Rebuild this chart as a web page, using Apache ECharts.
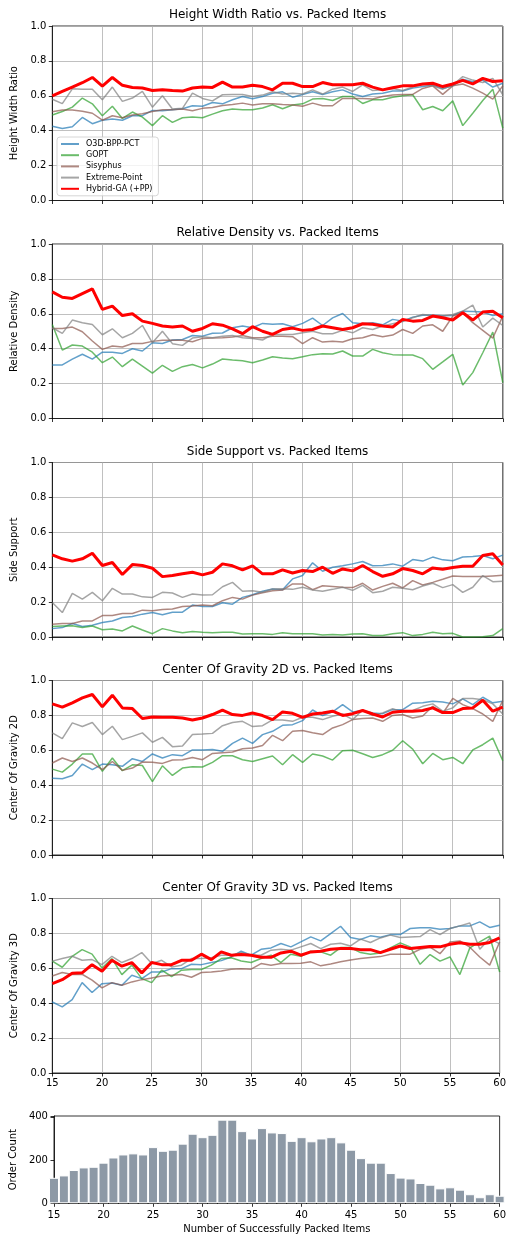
<!DOCTYPE html>
<html><head><meta charset="utf-8">
<script src="https://cdn.jsdelivr.net/npm/echarts@6/dist/echarts.min.js"></script>
<style>html,body{margin:0;padding:0;background:#fff}#c{width:509px;height:1237px}</style>
</head><body><div id="c"></div><script>
const xs = [15,16,17,18,19,20,21,22,23,24,25,26,27,28,29,30,31,32,33,34,35,36,37,38,39,40,41,42,43,44,45,46,47,48,49,50,51,52,53,54,55,56,57,58,59,60];
const seriesNames = ['O3D-BPP-PCT','GOPT','Sisyphus','Extreme-Point','Hybrid-GA (+PP)'];
const panelTitles = ['Height Width Ratio vs. Packed Items','Relative Density vs. Packed Items','Side Support vs. Packed Items','Center Of Gravity 2D vs. Packed Items','Center Of Gravity 3D vs. Packed Items'];
const panelYNames = ['Height Width Ratio','Relative Density','Side Support','Center Of Gravity 2D','Center Of Gravity 3D'];
const yTicks = [0.0,0.2,0.4,0.6,0.8,1.0];
const barYTicks = [0,200,400];
const xTitle = 'Number of Successfully Packed Items';
const barYName = 'Order Count';

// Height Width Ratio
const hwrO3D = [.425,.413,.423,.476,.44,.46,.467,.46,.486,.486,.516,.514,.52,.526,.543,.54,.562,.554,.577,.596,.583,.596,.615,.623,.592,.608,.623,.608,.623,.634,.61,.596,.61,.615,.627,.627,.644,.653,.661,.642,.657,.695,.68,.69,.65,.672];
const hwrGOPT = [.49,.51,.535,.587,.554,.486,.54,.47,.507,.478,.429,.486,.448,.474,.478,.474,.495,.514,.524,.52,.52,.53,.549,.526,.547,.554,.581,.585,.573,.596,.596,.556,.577,.577,.592,.60,.606,.52,.539,.514,.571,.429,.50,.573,.638,.415];
const hwrSisyphus = [.508,.518,.518,.512,.50,.46,.486,.474,.49,.497,.51,.52,.52,.524,.514,.528,.533,.545,.55,.558,.547,.554,.554,.55,.547,.54,.558,.543,.543,.585,.585,.585,.582,.596,.604,.608,.608,.642,.657,.608,.657,.668,.644,.615,.581,.657];
const hwrExtreme = [.58,.555,.64,.638,.638,.577,.65,.568,.587,.625,.535,.60,.524,.528,.615,.585,.571,.606,.608,.608,.596,.604,.623,.61,.615,.61,.634,.61,.638,.65,.625,.663,.63,.634,.642,.63,.65,.665,.657,.638,.661,.71,.69,.676,.70,.606];
const hwrHybrid = [.60,.625,.65,.675,.705,.655,.705,.66,.648,.645,.63,.634,.63,.627,.645,.65,.648,.678,.65,.651,.66,.653,.634,.672,.672,.653,.653,.676,.663,.663,.663,.672,.65,.634,.646,.657,.657,.668,.672,.653,.668,.688,.668,.70,.682,.686];

// Relative Density
const rdO3D = [.307,.307,.34,.368,.34,.38,.38,.373,.40,.387,.434,.43,.45,.453,.476,.472,.488,.49,.52,.53,.52,.545,.54,.543,.526,.545,.575,.533,.577,.602,.549,.543,.549,.537,.568,.558,.581,.592,.592,.589,.59,.615,.613,.61,.59,.60];
const rdGOPT = [.539,.392,.421,.415,.38,.32,.352,.297,.34,.30,.26,.305,.27,.297,.309,.29,.312,.341,.335,.331,.32,.335,.354,.347,.343,.354,.366,.371,.37,.387,.358,.358,.396,.377,.366,.364,.364,.343,.282,.324,.368,.192,.263,.377,.495,.206];
const rdSisyphus = [.516,.516,.524,.497,.444,.396,.415,.41,.43,.43,.442,.448,.448,.448,.44,.459,.461,.463,.467,.476,.463,.463,.472,.472,.469,.429,.463,.438,.442,.438,.457,.463,.48,.469,.478,.51,.488,.53,.537,.50,.587,.606,.549,.505,.461,.587];
const rdExtreme = [.52,.488,.564,.549,.539,.48,.514,.463,.488,.533,.434,.50,.429,.419,.461,.469,.463,.472,.476,.463,.459,.45,.482,.482,.482,.491,.50,.486,.486,.505,.491,.52,.51,.53,.543,.556,.577,.596,.59,.587,.596,.615,.65,.524,.575,.533];
const rdHybrid = [.726,.695,.688,.716,.743,.625,.644,.59,.60,.558,.545,.53,.524,.53,.50,.516,.543,.535,.514,.486,.526,.50,.482,.51,.518,.505,.51,.53,.52,.51,.52,.543,.54,.53,.524,.568,.558,.562,.587,.577,.564,.606,.564,.61,.615,.577];

// Side Support
const ssO3D = [.048,.054,.077,.06,.067,.083,.092,.112,.117,.131,.14,.127,.142,.142,.183,.175,.175,.196,.188,.227,.242,.262,.275,.271,.333,.352,.425,.377,.40,.408,.419,.433,.408,.41,.419,.406,.444,.435,.458,.442,.437,.458,.462,.467,.448,.469];
const ssGOPT = [.06,.063,.065,.054,.063,.042,.046,.035,.063,.04,.019,.048,.035,.025,.031,.027,.025,.027,.027,.017,.019,.019,.015,.025,.019,.019,.019,.012,.015,.012,.017,.019,.008,.008,.019,.025,.008,.015,.027,.019,.021,.0,.0,.002,.008,.048];
const ssSisyphus = [.073,.077,.077,.092,.092,.123,.123,.135,.135,.154,.15,.158,.16,.175,.177,.183,.179,.208,.227,.217,.24,.254,.265,.269,.304,.304,.271,.294,.29,.285,.283,.308,.269,.29,.308,.281,.323,.298,.313,.331,.35,.346,.346,.346,.35,.354];
const ssExtreme = [.198,.14,.25,.217,.256,.208,.279,.246,.246,.23,.227,.256,.252,.227,.246,.24,.242,.288,.313,.262,.265,.256,.275,.277,.273,.285,.269,.262,.273,.285,.267,.296,.254,.262,.285,.279,.271,.292,.308,.283,.30,.256,.285,.352,.317,.319];
const ssHybrid = [.471,.448,.435,.448,.48,.41,.427,.358,.415,.41,.394,.346,.352,.362,.371,.356,.371,.419,.408,.385,.408,.362,.362,.385,.367,.381,.375,.40,.365,.39,.379,.41,.375,.348,.362,.392,.381,.362,.396,.388,.398,.406,.406,.467,.477,.413];

// Center Of Gravity 2D
const cg2O3D = [.44,.437,.456,.521,.489,.521,.517,.508,.552,.536,.579,.556,.575,.569,.602,.602,.605,.594,.64,.67,.64,.69,.709,.743,.747,.77,.831,.799,.82,.862,.82,.828,.814,.81,.833,.833,.87,.872,.881,.877,.866,.895,.862,.904,.872,.881];
const cg2GOPT = [.492,.475,.521,.579,.579,.479,.556,.483,.517,.513,.421,.511,.456,.498,.506,.504,.531,.569,.569,.546,.536,.552,.567,.517,.575,.531,.579,.567,.544,.598,.60,.58,.559,.575,.60,.655,.607,.523,.582,.546,.559,.523,.602,.632,.67,.54];
const cg2Sisyphus = [.527,.556,.536,.556,.527,.489,.536,.485,.498,.533,.531,.525,.544,.546,.559,.546,.582,.586,.59,.609,.613,.628,.686,.655,.709,.713,.701,.69,.728,.747,.776,.782,.785,.766,.80,.805,.785,.797,.852,.812,.897,.862,.839,.808,.766,.885];
const cg2Extreme = [.70,.667,.757,.736,.759,.69,.738,.661,.68,.70,.646,.674,.621,.625,.69,.693,.697,.741,.759,.766,.736,.741,.774,.774,.766,.789,.789,.776,.795,.808,.776,.831,.80,.814,.839,.82,.828,.852,.866,.824,.843,.897,.897,.89,.866,.808];
const cg2Hybrid = [.866,.847,.872,.90,.92,.849,.916,.843,.839,.782,.791,.789,.789,.785,.774,.785,.805,.83,.805,.80,.814,.799,.776,.82,.812,.789,.808,.814,.824,.80,.81,.828,.808,.791,.818,.824,.824,.828,.843,.816,.816,.839,.843,.887,.824,.847];

// Center Of Gravity 3D
const cg3O3D = [.407,.379,.421,.518,.461,.512,.516,.503,.56,.541,.579,.579,.598,.598,.623,.621,.633,.644,.665,.698,.675,.709,.717,.742,.723,.751,.78,.757,.799,.841,.776,.765,.786,.778,.793,.793,.828,.832,.832,.824,.828,.843,.843,.866,.834,.847];
const cg3GOPT = [.641,.606,.669,.707,.681,.602,.656,.564,.618,.541,.518,.589,.553,.589,.593,.593,.618,.656,.66,.642,.633,.656,.675,.633,.681,.669,.698,.694,.675,.719,.719,.69,.681,.688,.717,.746,.723,.623,.679,.641,.665,.564,.717,.751,.784,.579];
const cg3Sisyphus = [.556,.576,.564,.566,.532,.488,.518,.503,.522,.535,.545,.556,.56,.564,.549,.576,.579,.585,.595,.598,.595,.627,.618,.627,.627,.629,.637,.614,.625,.637,.648,.656,.662,.667,.681,.681,.681,.709,.721,.684,.751,.757,.721,.665,.618,.751];
const cg3Extreme = [.641,.656,.669,.646,.65,.621,.669,.633,.656,.69,.627,.646,.608,.618,.656,.656,.66,.675,.675,.69,.675,.675,.704,.709,.704,.723,.742,.713,.738,.744,.728,.767,.748,.774,.79,.776,.78,.782,.822,.793,.828,.843,.86,.709,.771,.74];
const cg3Hybrid = [.512,.535,.572,.574,.621,.583,.646,.612,.633,.574,.633,.621,.621,.646,.646,.681,.65,.694,.675,.679,.675,.663,.663,.688,.698,.675,.694,.698,.709,.713,.713,.707,.707,.69,.709,.728,.713,.719,.725,.723,.738,.746,.738,.738,.748,.774];

// Order Count
const orderCount = [118,129,154,166,169,188,212,226,231,226,260,243,248,276,322,306,317,387,387,334,300,348,328,325,289,306,287,300,306,282,248,209,188,188,140,119,115,94,86,69,74,63,42,28,42,35];

const panelData = [
  [hwrO3D,hwrGOPT,hwrSisyphus,hwrExtreme,hwrHybrid],
  [rdO3D,rdGOPT,rdSisyphus,rdExtreme,rdHybrid],
  [ssO3D,ssGOPT,ssSisyphus,ssExtreme,ssHybrid],
  [cg2O3D,cg2GOPT,cg2Sisyphus,cg2Extreme,cg2Hybrid],
  [cg3O3D,cg3GOPT,cg3Sisyphus,cg3Extreme,cg3Hybrid]
];

const colors = ['rgba(31,119,180,0.7)','rgba(44,160,44,0.7)','rgba(140,86,75,0.7)','rgba(127,127,127,0.7)','#ff0000'];
const widths = [1.5,1.5,1.5,1.5,3];
const FONT = 'DejaVu Sans';
const L = 52.3, W = 450.5;
const tops = [26, 244, 462.5, 680.5, 898.5];
const H = 174.5;

const grids = [], xAxes = [], yAxes = [], series = [], titles = [];
for (let p = 0; p < 5; p++) {
  grids.push({left: L, top: tops[p], width: W, height: H, show: true, borderColor: '#000', borderWidth: 0.8, backgroundColor: 'transparent'});
  xAxes.push({
    type: 'value', gridIndex: p, min: 15, max: 60, interval: 5,
    axisLine: {show: true, lineStyle: {color: '#000', width: 0.8}},
    axisTick: {show: true, length: 3.5, lineStyle: {color: '#000', width: 0.8}},
    axisLabel: {show: p === 4, fontFamily: FONT, fontSize: 10, color: '#000', margin: 5},
    splitLine: {show: true, lineStyle: {color: '#b0b0b0', width: 0.8}}
  });
  yAxes.push({
    type: 'value', gridIndex: p, min: 0, max: 1, interval: 0.2,
    name: panelYNames[p], nameLocation: 'middle', nameGap: 27,
    nameTextStyle: {fontFamily: FONT, fontSize: 10, color: '#000'},
    axisLine: {show: true, lineStyle: {color: '#000', width: 0.8}},
    axisTick: {show: true, length: 3.5, lineStyle: {color: '#000', width: 0.8}},
    axisLabel: {fontFamily: FONT, fontSize: 10, color: '#000', margin: 6, formatter: v => v.toFixed(1)},
    splitLine: {show: true, lineStyle: {color: '#b0b0b0', width: 0.8}}
  });
  titles.push({text: panelTitles[p], left: L + W / 2, top: tops[p] - 17, textAlign: 'center', padding: 0,
    textStyle: {fontFamily: FONT, fontSize: 12, fontWeight: 'normal', color: '#000'}});
  for (let s = 0; s < 5; s++) {
    series.push({
      type: 'line', name: seriesNames[s], xAxisIndex: p, yAxisIndex: p,
      data: xs.map((x, i) => [x, panelData[p][s][i]]),
      symbol: 'none', showSymbol: false, silent: true, animation: false, z: 2 + s,
      lineStyle: {color: colors[s], width: widths[s]}, itemStyle: {color: colors[s]}
    });
  }
}
// bar panel
grids.push({left: L, top: 1116, width: W, height: 87.3, show: true, borderColor: '#000', borderWidth: 0.8, backgroundColor: 'transparent'});
xAxes.push({
  type: 'value', gridIndex: 5, min: 15, max: 60, interval: 5,
  name: xTitle, nameLocation: 'middle', nameGap: 21,
  nameTextStyle: {fontFamily: FONT, fontSize: 10, color: '#000'},
  axisLine: {show: true, lineStyle: {color: '#000', width: 0.8}},
  axisTick: {show: true, length: 3.5, lineStyle: {color: '#000', width: 0.8}},
  axisLabel: {fontFamily: FONT, fontSize: 10, color: '#000', margin: 7},
  splitLine: {show: false}
});
yAxes.push({
  type: 'value', gridIndex: 5, min: 0, max: 404, interval: 200,
  name: barYName, nameLocation: 'middle', nameGap: 33,
  nameTextStyle: {fontFamily: FONT, fontSize: 10, color: '#000'},
  axisLine: {show: true, lineStyle: {color: '#000', width: 0.8}},
  axisTick: {show: true, length: 3.5, lineStyle: {color: '#000', width: 0.8}},
  axisLabel: {fontFamily: FONT, fontSize: 10, color: '#000', margin: 6, formatter: v => (barYTicks.indexOf(v) >= 0 ? String(v) : '')},
  splitLine: {show: false}
});
series.push({
  type: 'bar', name: barYName, xAxisIndex: 5, yAxisIndex: 5, barWidth: 10, clip: true,
  data: xs.map((x, i) => [x, orderCount[i]]), silent: true, animation: false,
  itemStyle: {color: '#8d99a6', borderColor: '#ffffff', borderWidth: 1}
});

const chart = echarts.init(document.getElementById('c'), null, {renderer: 'canvas'});
chart.setOption({
  animation: false,
  backgroundColor: '#fff',
  title: titles,
  grid: grids, xAxis: xAxes, yAxis: yAxes, series: series,
  legend: {
    data: seriesNames, orient: 'vertical', left: 57, top: 137,
    itemWidth: 18, itemHeight: 8, itemGap: 3.2, padding: [3, 6, 3, 3],
    backgroundColor: 'rgba(255,255,255,0.8)', borderColor: '#cccccc', borderWidth: 0.8, borderRadius: 3,
    itemStyle: {color: 'rgba(0,0,0,0)', borderColor: 'rgba(0,0,0,0)', borderWidth: 0},
    textStyle: {fontFamily: FONT, fontSize: 8, color: '#000', padding: [0, 0, 0, 2]},
    selectedMode: false
  }
});
</script></body></html>
